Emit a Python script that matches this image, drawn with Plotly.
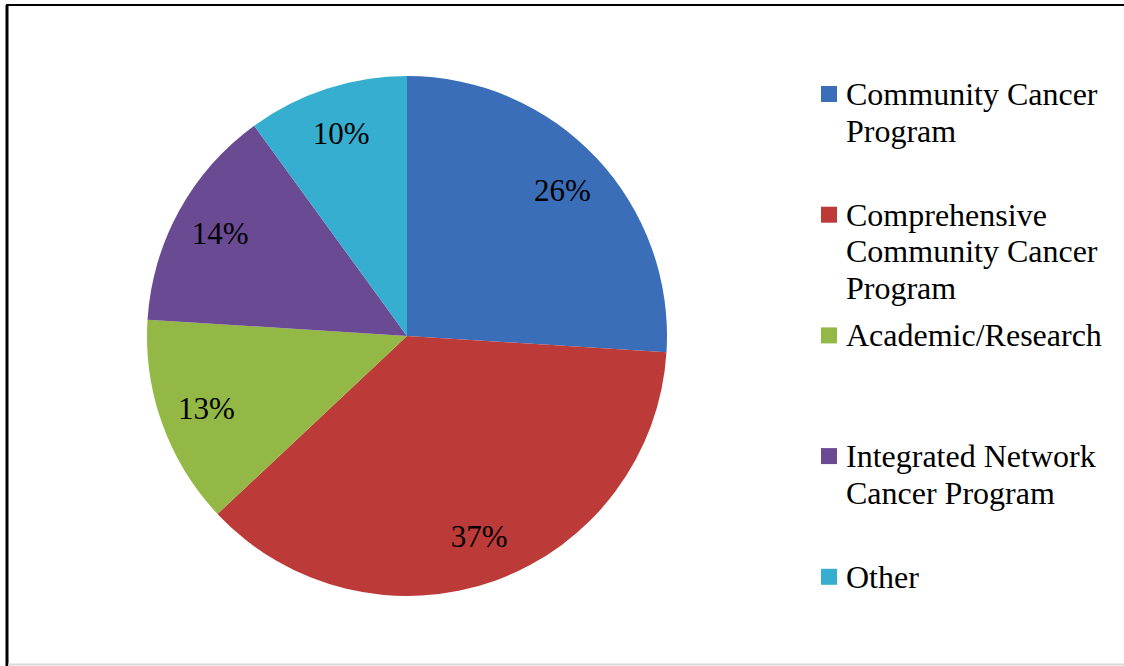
import plotly.graph_objects as go

categories = ["Community Cancer Program", "Comprehensive Community Cancer Program",
              "Academic/Research", "Integrated Network Cancer Program", "Other"]
values = [26, 37, 13, 14, 10]
colors = ["#3A6EB8", "#BC3A37", "#93B845", "#6A4A92", "#36AECF"]
legend_lines = [["Community Cancer", "Program"],
                ["Comprehensive", "Community Cancer", "Program"],
                ["Academic/Research"],
                ["Integrated Network", "Cancer Program"],
                ["Other"]]

W, H = 1124, 666
FONT = "Liberation Serif, Times New Roman, serif"

def px(x): return x / W
def py(y): return 1 - y / H

dom = dict(x=[px(147), px(667)], y=[py(596), py(76)])

fig = go.Figure()
fig.add_trace(go.Pie(
    labels=categories, values=values, sort=False, direction="clockwise", rotation=0,
    marker=dict(colors=colors, line=dict(width=0)),
    textinfo="none", domain=dom, showlegend=False, hoverinfo="label+percent",
))
# transparent ring carrying the percentage labels (places them toward the rim)
fig.add_trace(go.Pie(
    labels=categories, values=values, sort=False, direction="clockwise", rotation=0,
    hole=0.64,
    marker=dict(colors=["rgba(0,0,0,0)"] * len(values), line=dict(width=0)),
    textinfo="percent", textposition="inside", insidetextorientation="horizontal",
    textfont=dict(family=FONT, size=31, color="black"),
    domain=dom, showlegend=False, hoverinfo="skip",
))

shapes = []
annotations = []
first_y = 94
step = 120.7
line_gap = 36.5
for i, lines in enumerate(legend_lines):
    yc = first_y + i * step
    shapes.append(dict(type="rect", xref="paper", yref="paper",
                       x0=px(821), x1=px(837), y0=py(yc + 8), y1=py(yc - 8),
                       fillcolor=colors[i], line=dict(width=0)))
    for j, t in enumerate(lines):
        annotations.append(dict(text=t, xref="paper", yref="paper",
                                x=px(844), y=py(yc + j * line_gap),
                                xanchor="left", yanchor="middle", showarrow=False,
                                font=dict(family=FONT, size=32, color="black")))

# chart frame
shapes.append(dict(type="line", xref="paper", yref="paper", x0=px(6), x1=px(1124),
                   y0=py(5), y1=py(5), line=dict(color="black", width=2)))
shapes.append(dict(type="line", xref="paper", yref="paper", x0=px(7), x1=px(7),
                   y0=py(5), y1=py(666), line=dict(color="black", width=3)))
shapes.append(dict(type="line", xref="paper", yref="paper", x0=px(8), x1=px(1124),
                   y0=py(664.5), y1=py(664.5), line=dict(color="#D9D9D9", width=2)))

fig.update_layout(
    width=W, height=H, margin=dict(l=0, r=0, t=0, b=0),
    paper_bgcolor="white", plot_bgcolor="white",
    shapes=shapes, annotations=annotations,
)
fig.write_html("out.html")
